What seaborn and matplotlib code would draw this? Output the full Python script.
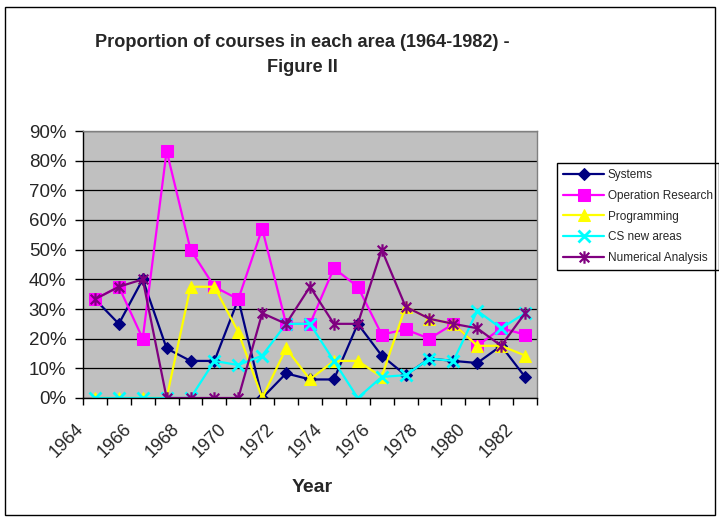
import matplotlib
matplotlib.use('Agg')
from matplotlib import pyplot as plt
from matplotlib.path import Path
from matplotlib.patches import Rectangle
from matplotlib.ticker import PercentFormatter, FixedLocator, NullFormatter
import matplotlib.transforms as mtransforms
import numpy as np
import pandas as pd
import seaborn as sns

# --- data (percent of courses per year) ---
years = list(range(1964, 1983))
systems = [33.3, 25.0, 40.0, 16.7, 12.5, 12.5, 33.3, 0.0, 8.3, 6.25,
           6.25, 25.0, 14.3, 7.7, 13.3, 12.5, 11.8, 17.6, 7.1]
operation_research = [33.3, 37.5, 20.0, 83.3, 50.0, 37.5, 33.3, 57.1, 25.0, 25.0,
                      43.75, 37.5, 21.4, 23.1, 20.0, 25.0, 17.6, 23.5, 21.4]
programming = [0.0, 0.0, 0.0, 0.0, 37.5, 37.5, 22.2, 0.0, 16.7, 6.25,
               12.5, 12.5, 7.1, 30.8, 26.7, 25.0, 17.6, 17.6, 14.3]
cs_new_areas = [0.0, 0.0, 0.0, 0.0, 0.0, 12.5, 11.1, 14.3, 25.0, 25.0,
                12.5, 0.0, 7.1, 7.7, 13.3, 12.5, 29.4, 23.5, 28.6]
numerical_analysis = [33.3, 37.5, 40.0, 0.0, 0.0, 0.0, 0.0, 28.6, 25.0, 37.5,
                      25.0, 25.0, 50.0, 30.8, 26.7, 25.0, 23.5, 17.6, 28.6]

series_names = ['Systems', 'Operation Research', 'Programming',
                'CS new areas', 'Numerical Analysis']
series_values = [systems, operation_research, programming, cs_new_areas, numerical_analysis]
tick_years = [str(y) for y in years[::2]]

# --- style ---
sns.set_style('white')
plt.rcParams['font.family'] = ['Liberation Sans', 'DejaVu Sans']

# excel-like asterisk marker (x + vertical bar)
star = Path([(-1, -1), (1, 1), (-1, 1), (1, -1), (0, -1.3), (0, 1.3)],
            [Path.MOVETO, Path.LINETO, Path.MOVETO, Path.LINETO, Path.MOVETO, Path.LINETO])

styles = {
    'Systems': dict(color='#000080', marker='D', markersize=6.5, mfc='#000080', mec='#000080'),
    'Operation Research': dict(color='#FF00FF', marker='s', markersize=8, mfc='#FF00FF', mec='#FF00FF'),
    'Programming': dict(color='#FFFF00', marker='^', markersize=9, mfc='#FFFF00', mec='#FFFF00'),
    'CS new areas': dict(color='#00FFFF', marker='x', markersize=8, mew=2, mec='#00FFFF'),
    'Numerical Analysis': dict(color='#800080', marker=star, markersize=9, mew=1.6,
                               mfc='none', mec='#800080'),
}

fig = plt.figure(figsize=(7.19, 5.2), dpi=100)
ax = fig.add_axes([83 / 719, 1 - 398 / 520, 454 / 719, 267 / 520])
ax.set_facecolor('#C0C0C0')

pos = np.arange(len(years))
for name, vals in zip(series_names, series_values):
    df = pd.DataFrame({'pos': pos, 'val': vals})
    sns.lineplot(data=df, x='pos', y='val', ax=ax, label=name, linewidth=1.6,
                 sort=False, **styles[name])

# axes
ax.set_xlim(-0.5, len(years) - 0.5)
ax.set_ylim(0, 90)
ax.yaxis.set_major_locator(FixedLocator(np.arange(0, 91, 10)))
ax.yaxis.set_major_formatter(PercentFormatter(100, decimals=0))
ax.yaxis.grid(True, color='black', linewidth=0.9)
ax.set_axisbelow(True)

# boundary ticks (no labels) + labels every other year
ax.xaxis.set_major_locator(FixedLocator(np.arange(-0.5, len(years), 1.0)))
ax.xaxis.set_major_formatter(NullFormatter())
ax.set_xticks(pos[::2], tick_years, minor=True)
ax.tick_params(axis='x', which='major', direction='out', length=5, width=1, color='black', bottom=True)
ax.tick_params(axis='x', which='minor', length=0, pad=16, labelsize=13)
ax.tick_params(axis='y', direction='out', length=6, width=1, color='black', left=True,
               labelsize=13.5, pad=6)
off = mtransforms.ScaledTranslation(-8 / 100, 0, fig.dpi_scale_trans)
for lbl in ax.get_xticklabels(minor=True):
    lbl.set_rotation(45)
    lbl.set_ha('right')
    lbl.set_va('top')
    lbl.set_transform(lbl.get_transform() + off)

for s in ax.spines.values():
    s.set_color('#808080')
    s.set_linewidth(1)
ax.spines['left'].set_color('black')
ax.spines['bottom'].set_color('black')
ax.set_xlabel('')
ax.set_ylabel('')

# titles
fig.text(302 / 719, 1 - 55 / 520, 'Proportion of courses in each area (1964-1982) -\nFigure II',
         ha='center', va='center', fontsize=13.1, fontweight='bold', linespacing=1.6)
fig.text(312 / 719, 1 - 488 / 520, 'Year', ha='center', va='center',
         fontsize=14, fontweight='bold')

leg = ax.legend(loc='upper left', bbox_to_anchor=(557 / 719, 1 - 163 / 520),
                bbox_transform=fig.transFigure, borderaxespad=0, frameon=True,
                fancybox=False, framealpha=1, edgecolor='black', fontsize=8.5,
                handlelength=3.5, handletextpad=0.3, labelspacing=0.75,
                borderpad=0.5)
leg.get_frame().set_linewidth(1)

fig.patches.append(Rectangle((5 / 719, 5 / 520), 710 / 719, 508 / 520,
                             transform=fig.transFigure, fill=False,
                             edgecolor='black', linewidth=1))

fig.savefig('out.png', dpi=100)
